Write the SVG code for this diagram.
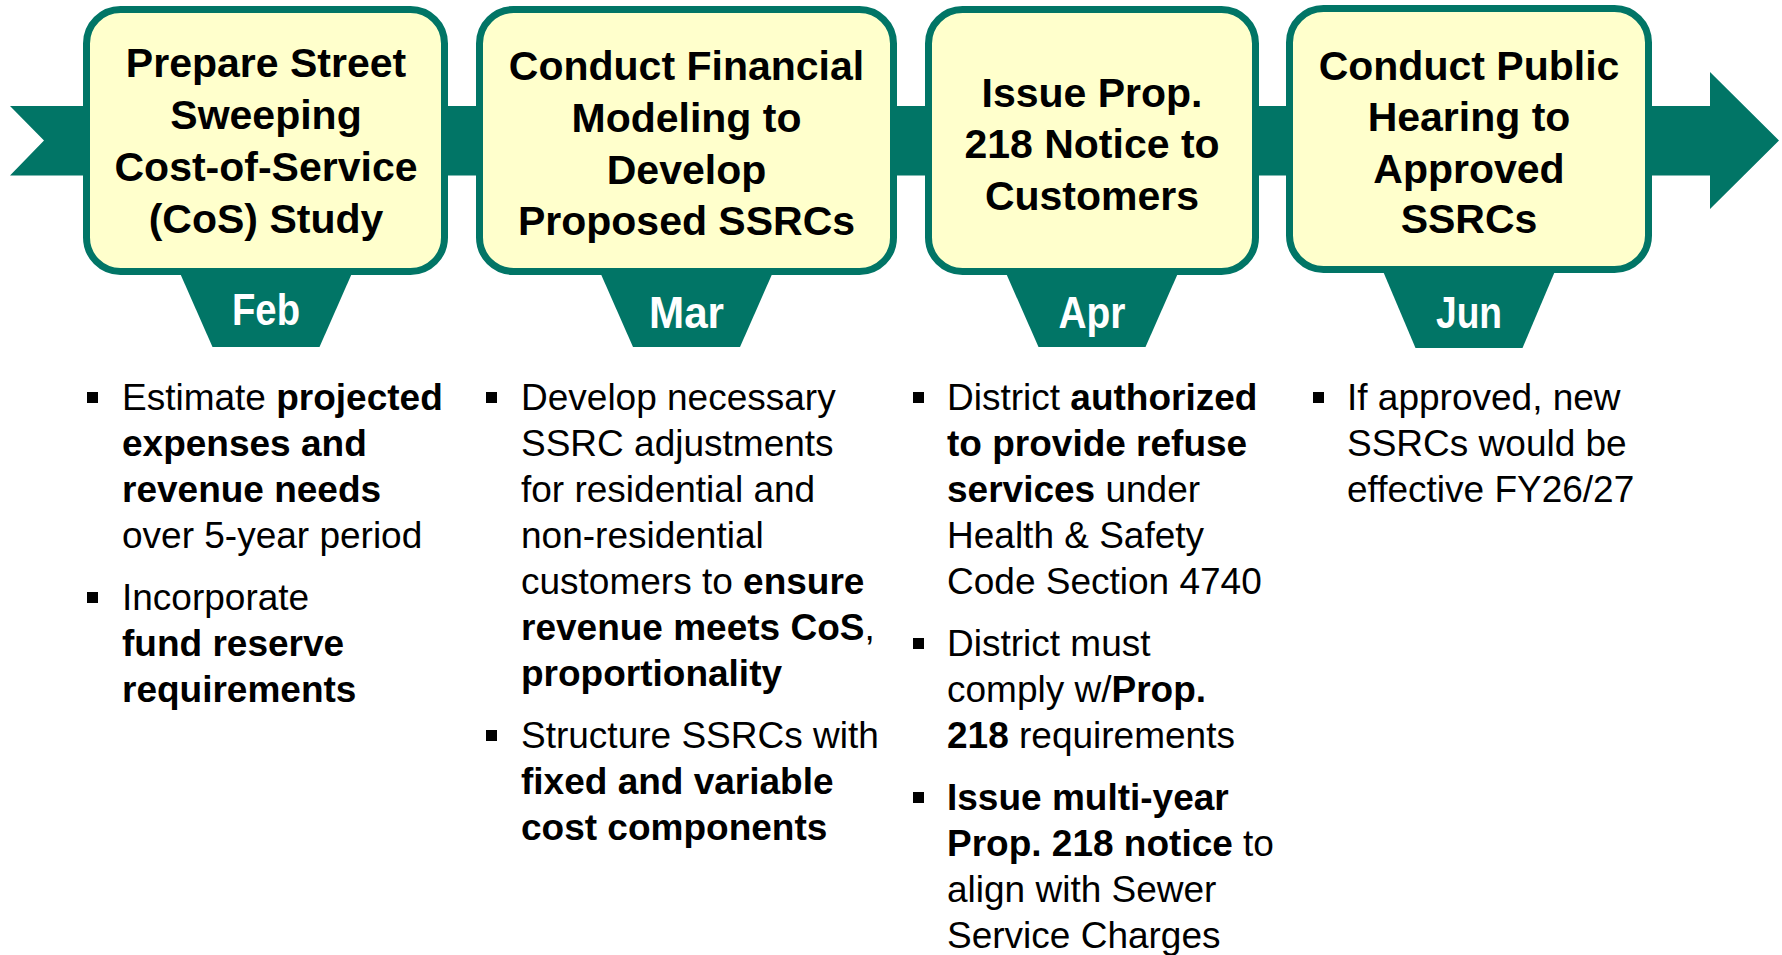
<svg xmlns="http://www.w3.org/2000/svg" width="1782" height="955" viewBox="0 0 1782 955">
<style>
.teal{fill:#017566}
.box{fill:#FFFFCC;stroke:#017566;stroke-width:7}
.title{font-family:"Liberation Sans",Arial,sans-serif;font-weight:bold;font-size:41px;fill:#000;text-anchor:middle}
.month{font-family:"Liberation Sans",Arial,sans-serif;font-weight:bold;font-size:45px;fill:#fff;text-anchor:middle}
.body{font-family:"Liberation Sans",Arial,sans-serif;font-size:37px;fill:#000}
.b{font-weight:bold}
.bullet{fill:#000}
</style>
<g id="connectors">
<path class="teal" d="M10,106 L1710,106 L1710,72 L1779,140.5 L1710,209 L1710,175.5 L10,175.5 L44,140.5 Z"/>
</g>
<g id="node-feb">
<path class="teal" d="M179.5,272 L352.5,272 L319.5,347 L212.5,347 Z"/>
<rect class="box" x="86.5" y="9.5" width="358" height="262" rx="34"/>
<text class="title" x="266"><tspan x="266" y="77">Prepare Street</tspan><tspan x="266" y="129">Sweeping</tspan><tspan x="266" y="181">Cost-of-Service</tspan><tspan x="266" y="233">(CoS) Study</tspan></text>
<text class="month" x="266" y="325" textLength="68" lengthAdjust="spacingAndGlyphs">Feb</text>
</g>
<g id="node-mar">
<path class="teal" d="M600,272 L773,272 L740,347 L633,347 Z"/>
<rect class="box" x="479.5" y="9.5" width="414" height="262" rx="34"/>
<text class="title" x="686.5"><tspan x="686.5" y="80">Conduct Financial</tspan><tspan x="686.5" y="132">Modeling to</tspan><tspan x="686.5" y="184">Develop</tspan><tspan x="686.5" y="235">Proposed SSRCs</tspan></text>
<text class="month" x="686.5" y="328" textLength="75" lengthAdjust="spacingAndGlyphs">Mar</text>
</g>
<g id="node-apr">
<path class="teal" d="M1005.5,272 L1178.5,272 L1145.5,347 L1038.5,347 Z"/>
<rect class="box" x="928.5" y="9.5" width="327" height="262" rx="34"/>
<text class="title" x="1092"><tspan x="1092" y="107">Issue Prop.</tspan><tspan x="1092" y="158">218 Notice to</tspan><tspan x="1092" y="210">Customers</tspan></text>
<text class="month" x="1092" y="328" textLength="67" lengthAdjust="spacingAndGlyphs">Apr</text>
</g>
<g id="node-jun">
<path class="teal" d="M1382.5,270 L1555.5,270 L1522.5,348 L1415.5,348 Z"/>
<rect class="box" x="1289.5" y="8.5" width="359" height="261" rx="34"/>
<text class="title" x="1469"><tspan x="1469" y="80">Conduct Public</tspan><tspan x="1469" y="131">Hearing to</tspan><tspan x="1469" y="183">Approved</tspan><tspan x="1469" y="233">SSRCs</tspan></text>
<text class="month" x="1469" y="328" textLength="66" lengthAdjust="spacingAndGlyphs">Jun</text>
</g>
<g id="notes-feb">
<rect class="bullet" x="87" y="392" width="11" height="11"/>
<rect class="bullet" x="87" y="592" width="11" height="11"/>
<text class="body"><tspan x="122" y="410">Estimate <tspan class="b">projected</tspan></tspan><tspan class="b" x="122" y="456">expenses and</tspan><tspan class="b" x="122" y="502">revenue needs</tspan><tspan x="122" y="548">over 5-year period</tspan></text>
<text class="body"><tspan x="122" y="610">Incorporate</tspan><tspan class="b" x="122" y="656">fund reserve</tspan><tspan class="b" x="122" y="702">requirements</tspan></text>
</g>
<g id="notes-mar">
<rect class="bullet" x="486" y="392" width="11" height="11"/>
<rect class="bullet" x="486" y="730" width="11" height="11"/>
<text class="body"><tspan x="521" y="410">Develop necessary</tspan><tspan x="521" y="456">SSRC adjustments</tspan><tspan x="521" y="502">for residential and</tspan><tspan x="521" y="548">non-residential</tspan><tspan x="521" y="594">customers to <tspan class="b">ensure</tspan></tspan><tspan x="521" y="640"><tspan class="b">revenue meets CoS</tspan>,</tspan><tspan class="b" x="521" y="686">proportionality</tspan></text>
<text class="body"><tspan x="521" y="748">Structure SSRCs with</tspan><tspan class="b" x="521" y="794">fixed and variable</tspan><tspan class="b" x="521" y="840">cost components</tspan></text>
</g>
<g id="notes-apr">
<rect class="bullet" x="913" y="392" width="11" height="11"/>
<rect class="bullet" x="913" y="638" width="11" height="11"/>
<rect class="bullet" x="913" y="792" width="11" height="11"/>
<text class="body"><tspan x="947" y="410">District <tspan class="b">authorized</tspan></tspan><tspan class="b" x="947" y="456">to provide refuse</tspan><tspan x="947" y="502"><tspan class="b">services</tspan> under</tspan><tspan x="947" y="548">Health &amp; Safety</tspan><tspan x="947" y="594">Code Section 4740</tspan></text>
<text class="body"><tspan x="947" y="656">District must</tspan><tspan x="947" y="702">comply w/<tspan class="b">Prop.</tspan></tspan><tspan x="947" y="748"><tspan class="b">218</tspan> requirements</tspan></text>
<text class="body"><tspan class="b" x="947" y="810">Issue multi-year</tspan><tspan x="947" y="856"><tspan class="b">Prop. 218 notice</tspan> to</tspan><tspan x="947" y="902">align with Sewer</tspan><tspan x="947" y="948">Service Charges</tspan></text>
</g>
<g id="notes-jun">
<rect class="bullet" x="1313" y="392" width="11" height="11"/>
<text class="body"><tspan x="1347" y="410">If approved, new</tspan><tspan x="1347" y="456">SSRCs would be</tspan><tspan x="1347" y="502">effective FY26/27</tspan></text>
</g>
</svg>
